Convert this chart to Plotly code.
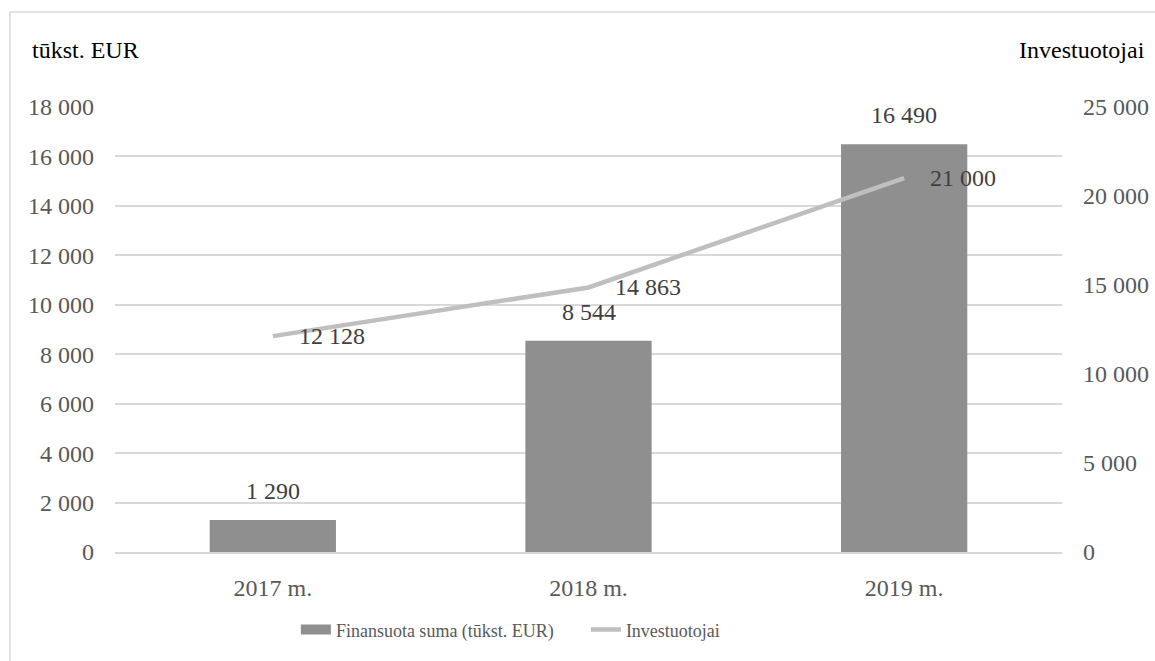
import plotly.graph_objects as go

# Chart data
years = ["2017 m.", "2018 m.", "2019 m."]
funded_amount = [1290, 8544, 16490]      # tūkst. EUR
investors = [12128, 14863, 21000]

left_ticks = list(range(0, 18001, 2000))
right_ticks = list(range(0, 25001, 5000))


def fmt(v):
    return f"{v:,}".replace(",", " ")


FONT = "Liberation Serif"
BAR_COLOR = "#8f8f8f"
LINE_COLOR = "#bfbfbf"
TICK_COLOR = "#595959"
LABEL_COLOR = "#404040"
FS = 24

fig = go.Figure()

fig.add_trace(go.Bar(
    x=years, y=funded_amount,
    name="Finansuota suma (tūkst. EUR)",
    legendgroup="funded", showlegend=False,
    marker=dict(color=BAR_COLOR, line=dict(width=0)),
    yaxis="y",
))
# wide rectangular legend key for the bar series
fig.add_trace(go.Scatter(
    x=[None], y=[None],
    name="Finansuota suma (tūkst. EUR)",
    legendgroup="funded", mode="lines",
    line=dict(color=BAR_COLOR, width=10),
    yaxis="y",
))

fig.add_trace(go.Scatter(
    x=years, y=investors,
    name="Investuotojai",
    mode="lines",
    line=dict(color=LINE_COLOR, width=4.5),
    yaxis="y2",
))

annotations = []
# value labels above the bars
for x, v in zip(years, funded_amount):
    annotations.append(dict(
        x=x, y=v, xref="x", yref="y", text=fmt(v), showarrow=False,
        yanchor="bottom", yshift=14,
        font=dict(family=FONT, size=FS, color=LABEL_COLOR),
    ))
# value labels to the right of the line points
for x, v in zip(years, investors):
    annotations.append(dict(
        x=x, y=v, xref="x", yref="y2", text=fmt(v), showarrow=False,
        xanchor="left", yanchor="middle", xshift=24,
        font=dict(family=FONT, size=FS, color=LABEL_COLOR),
    ))
# axis captions
annotations.append(dict(
    x=-0.0898, y=1.128, xref="paper", yref="paper", text="tūkst. EUR",
    showarrow=False, xanchor="left", yanchor="middle",
    font=dict(family=FONT, size=FS, color="#000000"),
))
annotations.append(dict(
    x=1.0898, y=1.128, xref="paper", yref="paper", text="Investuotojai",
    showarrow=False, xanchor="right", yanchor="middle",
    font=dict(family=FONT, size=FS, color="#000000"),
))

# outer chart frame
shapes = [
    dict(type="rect", xref="paper", yref="paper",
         x0=-0.1109, x1=1.2, y0=-0.3, y1=1.2135,
         line=dict(color="#d9d9d9", width=1.5), fillcolor="rgba(0,0,0,0)",
         layer="below"),
]

fig.update_layout(
    width=1155, height=661,
    margin=dict(l=115, r=93, t=107, b=109, autoexpand=False),
    paper_bgcolor="white", plot_bgcolor="white",
    font=dict(family=FONT, size=FS, color=TICK_COLOR),
    bargap=0.6,
    showlegend=True,
    legend=dict(
        orientation="h", x=0.191, y=-0.175, xanchor="left", yanchor="middle",
        font=dict(family=FONT, size=18, color=TICK_COLOR),
        entrywidth=245, entrywidthmode="pixels", tracegroupgap=0,
    ),
    xaxis=dict(
        showgrid=False, showline=True, linecolor="#d9d9d9", linewidth=1.5,
        ticks="", ticklabelstandoff=13, automargin=False,
        tickfont=dict(family=FONT, size=FS, color=TICK_COLOR),
    ),
    yaxis=dict(
        range=[0, 18000], tickvals=left_ticks,
        ticktext=[fmt(v) for v in left_ticks],
        showgrid=True, gridcolor="#d9d9d9", gridwidth=1.5, automargin=False,
        zeroline=False, showline=False, ticks="", ticklabelstandoff=20,
        tickfont=dict(family=FONT, size=FS, color=TICK_COLOR),
    ),
    yaxis2=dict(
        range=[0, 25000], tickvals=right_ticks,
        ticktext=[fmt(v) for v in right_ticks], automargin=False,
        overlaying="y", side="right", showgrid=False, zeroline=False,
        showline=False, ticks="", ticklabelstandoff=20,
        tickfont=dict(family=FONT, size=FS, color=TICK_COLOR),
    ),
    annotations=annotations,
    shapes=shapes,
)

fig.write_html("out.html")
